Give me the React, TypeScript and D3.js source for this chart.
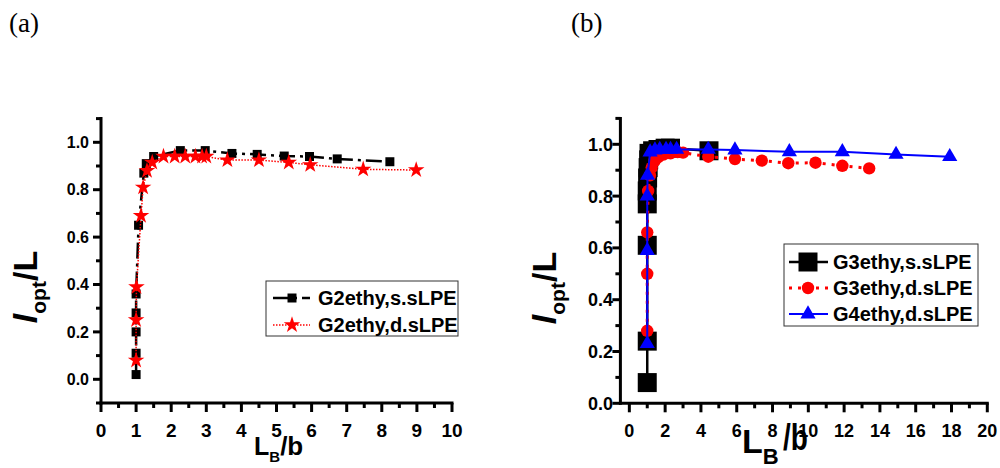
import * as d3 from 'd3'

// panel (a): G2ethy
const a1X = [1.0, 1.0, 1.0, 1.0, 1.0, 1.07, 1.22, 1.29, 1.5, 2.26, 2.97, 3.73, 4.45, 5.22, 5.94, 6.73, 8.23]
const a1Y = [0.02, 0.11, 0.2, 0.28, 0.36, 0.65, 0.87, 0.91, 0.94, 0.965, 0.965, 0.953, 0.949, 0.942, 0.94, 0.93, 0.918]
const a2X = [1.0, 1.0, 1.01, 1.14, 1.2, 1.31, 1.46, 1.78, 2.1, 2.4, 2.69, 2.88, 3.0, 3.6, 4.5, 5.35, 5.96, 7.47, 8.98]
const a2Y = [0.08, 0.25, 0.39, 0.69, 0.81, 0.88, 0.915, 0.94, 0.94, 0.94, 0.94, 0.94, 0.94, 0.925, 0.925, 0.915, 0.905, 0.886, 0.883]

// panel (b): G3ethy / G4ethy
const b1X = [1.0, 1.0, 1.0, 1.0, 1.0, 1.02, 1.05, 1.08, 1.1, 1.3, 1.6, 2.0, 2.3, 4.45]
const b1Y = [0.08, 0.24, 0.61, 0.77, 0.82, 0.87, 0.91, 0.94, 0.965, 0.975, 0.98, 0.985, 0.985, 0.975]
const b2X = [1.0, 1.0, 1.0, 1.05, 1.15, 1.25, 1.4, 1.6, 1.9, 2.3, 2.7, 3.0, 4.41, 5.9, 7.4, 8.88, 10.4, 11.9, 13.4]
const b2Y = [0.28, 0.5, 0.66, 0.82, 0.88, 0.91, 0.935, 0.95, 0.96, 0.965, 0.97, 0.968, 0.952, 0.943, 0.937, 0.927, 0.929, 0.917, 0.907]
const b3X = [1.0, 1.0, 1.0, 1.02, 1.16, 1.43, 1.7, 2.05, 2.3, 2.64, 4.41, 5.9, 8.94, 11.9, 14.9, 17.9]
const b3Y = [0.23, 0.59, 0.8, 0.88, 0.97, 0.978, 0.98, 0.98, 0.98, 0.98, 0.98, 0.978, 0.971, 0.971, 0.961, 0.952]

const legendA = ['G2ethy,s.sLPE', 'G2ethy,d.sLPE']
const legendB = ['G3ethy,s.sLPE', 'G3ethy,d.sLPE', 'G4ethy,d.sLPE']

const xTicksA = d3.range(0, 11, 1)
const xMinorA = d3.range(0.5, 10, 1)
const yTicksA = [0, 0.2, 0.4, 0.6, 0.8, 1.0]
const yMinorA = [-0.1, 0.1, 0.3, 0.5, 0.7, 0.9, 1.1]
const xTicksB = d3.range(0, 21, 2)
const xMinorB = d3.range(1, 20, 2)
const yTicksB = [0, 0.2, 0.4, 0.6, 0.8, 1.0]
const yMinorB = [0.1, 0.3, 0.5, 0.7, 0.9, 1.1]

const FONT = '"Liberation Sans", Arial, Helvetica, sans-serif'

const xA = d3.scaleLinear().domain([0, 10]).range([101, 452])
const yA = d3.scaleLinear().domain([-0.1, 1.1]).range([403, 118.6])
const xB = d3.scaleLinear().domain([-0.5, 20]).range([620.4, 987.3])
const yB = d3.scaleLinear().domain([0, 1.1]).range([403.3, 118.4])

const zip = (xs: number[], ys: number[]) => xs.map((x, i) => [x, ys[i]] as [number, number])

const sym = (type: d3.SymbolType, size: number) => d3.symbol().type(type).size(size)() as string

function Axes({ x, y, xt, xm, yt, ym, xFont, yFont, yLabelEnd }: any) {
  const [x0, x1] = x.range()
  const [y0, y1] = y.range()
  return (
    <g stroke="#000" strokeWidth={3}>
      <line x1={x0} x2={x1} y1={y0} y2={y0} strokeLinecap="square" />
      <line x1={x0} x2={x0} y1={y0} y2={y1} strokeLinecap="square" />
      {xt.map((t: number) => <line key={'xt' + t} x1={x(t)} x2={x(t)} y1={y0} y2={y0 + 9} />)}
      {xm.map((t: number) => <line key={'xm' + t} x1={x(t)} x2={x(t)} y1={y0} y2={y0 + 5} />)}
      {yt.map((t: number) => <line key={'yt' + t} x1={x0} x2={x0 - 8} y1={y(t)} y2={y(t)} />)}
      {ym.map((t: number) => <line key={'ym' + t} x1={x0} x2={x0 - 5} y1={y(t)} y2={y(t)} />)}
      <g stroke="none" fill="#000" fontFamily={FONT} fontWeight="bold">
        {xt.map((t: number) => (
          <text key={'xl' + t} x={x(t)} y={437} fontSize={xFont} textAnchor="middle">{t}</text>
        ))}
        {yt.map((t: number) => (
          <text key={'yl' + t} x={yLabelEnd} y={y(t)} dy="0.36em" fontSize={yFont} textAnchor="end">{t.toFixed(1)}</text>
        ))}
      </g>
    </g>
  )
}

function YLabel({ x, y }: { x: number; y: number }) {
  return (
    <text transform={`translate(${x},${y}) rotate(-90)`} textAnchor="middle" fontFamily={FONT} fontWeight="bold" fill="#000">
      <tspan fontSize={34} fontStyle="italic">l</tspan>
      <tspan fontSize={21} dy={9}>opt</tspan>
      <tspan fontSize={34} dy={-9}>/L</tspan>
    </text>
  )
}

export default function App() {
  const lineA = d3.line().x(d => xA(d[0])).y(d => yA(d[1]))
  const lineB = d3.line().x(d => xB(d[0])).y(d => yB(d[1]))

  const sqA = sym(d3.symbolSquare, 81)
  const starA = sym(d3.symbolStar, 85)
  const sqB = sym(d3.symbolSquare, 361)
  const circB = sym(d3.symbolCircle, 121)
  const triB = sym(d3.symbolTriangle, 100)

  const dA1 = zip(a1X, a1Y)
  const dA2 = zip(a2X, a2Y)
  const dB1 = zip(b1X, b1Y)
  const dB2 = zip(b2X, b2Y)
  const dB3 = zip(b3X, b3Y)

  return (
    <svg width={1000} height={468} style={{ position: 'absolute', left: 0, top: 0, background: '#fff' }}>
      <rect width={1000} height={468} fill="#fff" />
      <text x={9} y={32} fontFamily='"Liberation Serif", "Times New Roman", serif' fontSize={27}>(a)</text>
      <text x={571} y={32} fontFamily='"Liberation Serif", "Times New Roman", serif' fontSize={27}>(b)</text>

      {/* panel (a) */}
      <Axes x={xA} y={yA} xt={xTicksA} xm={xMinorA} yt={yTicksA} ym={yMinorA} xFont={19} yFont={16} yLabelEnd={89} />
      <path d={lineA(dA1) ?? ''} fill="none" stroke="#000" strokeWidth={2.5} strokeDasharray="16,5,3,5" />
      {dA1.map((d, i) => <path key={'a1' + i} d={sqA} transform={`translate(${xA(d[0])},${yA(d[1])})`} fill="#000" />)}
      <path d={lineA(dA2) ?? ''} fill="none" stroke="#ff0000" strokeWidth={1.5} strokeDasharray="1.5,1.5" />
      {dA2.map((d, i) => <path key={'a2' + i} d={starA} transform={`translate(${xA(d[0])},${yA(d[1])})`} fill="#ff0000" />)}

      <g>
        <rect x={266} y={281} width={192} height={55} fill="#fff" stroke="#333" strokeWidth={1} />
        <line x1={273} x2={310} y1={298} y2={298} stroke="#000" strokeWidth={2.5} strokeDasharray="16,5,3,5" />
        <path d={sqA} transform="translate(292,298)" fill="#000" />
        <line x1={273} x2={310} y1={325} y2={325} stroke="#ff0000" strokeWidth={1.5} strokeDasharray="1.5,1.5" />
        <path d={starA} transform="translate(292,325)" fill="#ff0000" />
        {legendA.map((t, i) => (
          <text key={t} x={318} y={298 + i * 27} dy="0.36em" fontFamily={FONT} fontWeight="bold" fontSize={20}>{t}</text>
        ))}
      </g>

      <YLabel x={37} y={287} />
      <text y={455} fontFamily={FONT} fontWeight="bold" fill="#000">
        <tspan x={254} fontSize={25}>L</tspan>
        <tspan fontSize={15} dy={7}>B</tspan>
        <tspan fontSize={26} dy={-7}>/b</tspan>
      </text>

      {/* panel (b) */}
      <Axes x={xB} y={yB} xt={xTicksB} xm={xMinorB} yt={yTicksB} ym={yMinorB} xFont={18} yFont={18} yLabelEnd={613} />
      <path d={lineB(dB1) ?? ''} fill="none" stroke="#000" strokeWidth={2.5} />
      {dB1.map((d, i) => <path key={'b1' + i} d={sqB} transform={`translate(${xB(d[0])},${yB(d[1])})`} fill="#000" />)}
      <path d={lineB(dB2) ?? ''} fill="none" stroke="#ff0000" strokeWidth={3} strokeDasharray="3,6" />
      {dB2.map((d, i) => <path key={'b2' + i} d={circB} transform={`translate(${xB(d[0])},${yB(d[1])})`} fill="#ff0000" />)}
      <path d={lineB(dB3) ?? ''} fill="none" stroke="#0000ff" strokeWidth={2} />
      {dB3.map((d, i) => <path key={'b3' + i} d={triB} transform={`translate(${xB(d[0])},${yB(d[1])})`} fill="#0000ff" />)}

      <g>
        <rect x={784} y={244} width={194} height={82} fill="#fff" stroke="#333" strokeWidth={1} />
        <line x1={789} x2={828} y1={262} y2={262} stroke="#000" strokeWidth={2.5} />
        <path d={sqB} transform="translate(808,262)" fill="#000" />
        <line x1={789} x2={828} y1={288} y2={288} stroke="#ff0000" strokeWidth={3} strokeDasharray="3,6" />
        <path d={circB} transform="translate(808,288)" fill="#ff0000" />
        <line x1={789} x2={828} y1={314} y2={314} stroke="#0000ff" strokeWidth={2} />
        <path d={triB} transform="translate(808,314)" fill="#0000ff" />
        {legendB.map((t, i) => (
          <text key={t} x={833} y={262 + i * 26} dy="0.36em" fontFamily={FONT} fontWeight="bold" fontSize={20}>{t}</text>
        ))}
      </g>

      <YLabel x={556} y={288} />
      <text fontFamily={FONT} fontWeight="bold" fill="#000">
        <tspan x={742} y={453} fontSize={34}>L</tspan>
        <tspan fontSize={22} dy={11}>B</tspan>
      </text>
      <text transform="translate(783,450) scale(1,1.35)" fontFamily={FONT} fontWeight="bold" fontSize={28} fill="#000">/b</text>
    </svg>
  )
}
